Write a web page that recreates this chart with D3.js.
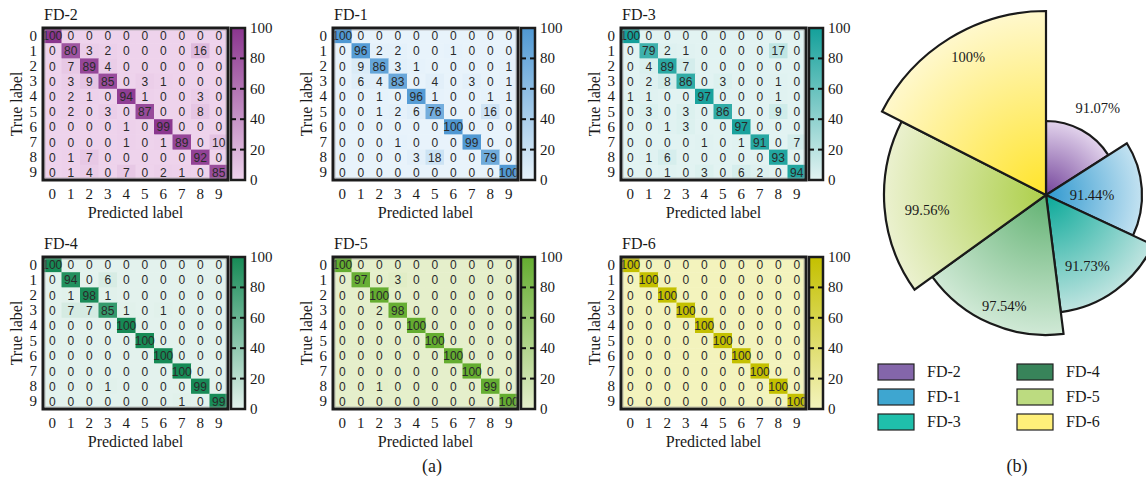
<!DOCTYPE html>
<html>
<head>
<meta charset="utf-8">
<script src="https://cdn.jsdelivr.net/npm/d3@7"></script>
<style>
  body { margin: 0; background: #fff; }
  svg text { fill: #1a1a1a; }
  .serif { font-family: "Liberation Serif", "DejaVu Serif", serif; }
  .cell { font-family: "Liberation Sans", Arial, sans-serif; font-size: 12px; }
</style>
</head>
<body>
<div id="chart"></div>
<script>
// class labels 0..9
var classes = d3.range(10)
var cbTicks = [0, 20, 40, 60, 80, 100]

// confusion matrices (%), rows = true label, cols = predicted label
var fd2 = [
  [100,0,0,0,0,0,0,0,0,0],
  [0,80,3,2,0,0,0,0,16,0],
  [0,7,89,4,0,0,0,0,0,0],
  [0,3,9,85,0,3,1,0,0,0],
  [0,2,1,0,94,1,0,0,3,0],
  [0,2,0,3,0,87,0,0,8,0],
  [0,0,0,0,1,0,99,0,0,0],
  [0,0,0,0,1,0,1,89,0,10],
  [0,1,7,0,0,0,0,0,92,0],
  [0,1,4,0,7,0,2,1,0,85]
]
var fd1 = [
  [100,0,0,0,0,0,0,0,0,0],
  [0,96,2,2,0,0,1,0,0,0],
  [0,9,86,3,1,0,0,0,0,1],
  [0,6,4,83,0,4,0,3,0,1],
  [0,0,1,0,96,1,0,0,1,1],
  [0,0,1,2,6,76,0,0,16,0],
  [0,0,0,0,0,0,100,0,0,0],
  [0,0,0,1,0,0,0,99,0,0],
  [0,0,0,0,3,18,0,0,79,0],
  [0,0,0,0,0,0,0,0,0,100]
]
var fd3 = [
  [100,0,0,0,0,0,0,0,0,0],
  [0,79,2,1,0,0,0,0,17,0],
  [0,4,89,7,0,0,0,0,0,0],
  [0,2,8,86,0,3,0,0,1,0],
  [1,1,0,0,97,0,0,0,1,0],
  [0,3,0,3,0,86,0,0,9,0],
  [0,0,1,3,0,0,97,0,0,0],
  [0,0,0,0,1,0,1,91,0,7],
  [0,1,6,0,0,0,0,0,93,0],
  [0,0,1,0,3,0,6,2,0,94]
]
var fd4 = [
  [100,0,0,0,0,0,0,0,0,0],
  [0,94,0,6,0,0,0,0,0,0],
  [0,1,98,1,0,0,0,0,0,0],
  [0,7,7,85,1,0,1,0,0,0],
  [0,0,0,0,100,0,0,0,0,0],
  [0,0,0,0,0,100,0,0,0,0],
  [0,0,0,0,0,0,100,0,0,0],
  [0,0,0,0,0,0,0,100,0,0],
  [0,0,0,1,0,0,0,0,99,0],
  [0,0,0,0,0,0,0,1,0,99]
]
var fd5 = [
  [100,0,0,0,0,0,0,0,0,0],
  [0,97,0,3,0,0,0,0,0,0],
  [0,0,100,0,0,0,0,0,0,0],
  [0,0,2,98,0,0,0,0,0,0],
  [0,0,0,0,100,0,0,0,0,0],
  [0,0,0,0,0,100,0,0,0,0],
  [0,0,0,0,0,0,100,0,0,0],
  [0,0,0,0,0,0,0,100,0,0],
  [0,0,1,0,0,0,0,0,99,0],
  [0,0,0,0,0,0,0,0,0,100]
]
var fd6 = [
  [100,0,0,0,0,0,0,0,0,0],
  [0,100,0,0,0,0,0,0,0,0],
  [0,0,100,0,0,0,0,0,0,0],
  [0,0,0,100,0,0,0,0,0,0],
  [0,0,0,0,100,0,0,0,0,0],
  [0,0,0,0,0,100,0,0,0,0],
  [0,0,0,0,0,0,100,0,0,0],
  [0,0,0,0,0,0,0,100,0,0],
  [0,0,0,0,0,0,0,0,100,0],
  [0,0,0,0,0,0,0,0,0,100]
]

// accuracy per dataset, order as in the rose chart
var roseNames = ["FD-2", "FD-1", "FD-3", "FD-4", "FD-5", "FD-6"]
var roseValues = [91.07, 91.44, 91.73, 97.54, 99.56, 100]

// ---- styles / layout ----
var panels = [
  {name: "FD-2", m: fd2, x: 43,  y: 28,  lo: "#eed3ec", hi: "#8a358e"},
  {name: "FD-1", m: fd1, x: 333, y: 28,  lo: "#e8f3fb", hi: "#4f98d3"},
  {name: "FD-3", m: fd3, x: 621, y: 28,  lo: "#e2f3f2", hi: "#14a09a"},
  {name: "FD-4", m: fd4, x: 43,  y: 257, lo: "#e3f2ed", hi: "#168a55"},
  {name: "FD-5", m: fd5, x: 333, y: 257, lo: "#e5efcb", hi: "#64ad30"},
  {name: "FD-6", m: fd6, x: 621, y: 257, lo: "#f3f3bd", hi: "#c4c000"}
]
var roseStyle = {
  "FD-2": {inner: "#73439a", outer: "#e2d3ec", key: "#8466aa"},
  "FD-1": {inner: "#2f98cf", outer: "#c3e2f1", key: "#3ea6d0"},
  "FD-3": {inner: "#08a898", outer: "#bfe4e0", key: "#1fbfab"},
  "FD-4": {inner: "#62b272", outer: "#d0e9d6", key: "#38845a"},
  "FD-5": {inner: "#adcf4a", outer: "#ebf1cf", key: "#bcdb80"},
  "FD-6": {inner: "#ffe42a", outer: "#fff8cc", key: "#fff07a"}
}
// label placement: fraction of slice radius, angle shift (deg)
var roseLabel = [[1.37, 2], [0.48, 4], [0.70, 6], [0.85, -3], [0.74, -3], [0.86, 2]]

var W = 1146, H = 486
var mw = 185, mh = 152

var svg = d3.select("#chart").append("svg")
  .attr("width", W).attr("height", H)
var defs = svg.append("defs")

panels.forEach(function(p, pi) {
  var g = svg.append("g").attr("transform", "translate(" + p.x + "," + p.y + ")")
  var x = d3.scaleBand().domain(classes).range([0, mw])
  var y = d3.scaleBand().domain(classes).range([0, mh])
  var color = d3.scaleLinear().domain([0, 100]).range([p.lo, p.hi]).interpolate(d3.interpolateRgb)

  var cells = []
  p.m.forEach(function(row, i) { row.forEach(function(v, j) { cells.push({r: i, c: j, v: v}) }) })

  g.selectAll("rect.c").data(cells).enter().append("rect")
    .attr("x", function(d) { return x(d.c) })
    .attr("y", function(d) { return y(d.r) })
    .attr("width", x.bandwidth() + 0.5)
    .attr("height", y.bandwidth() + 0.5)
    .attr("fill", function(d) { return color(d.v) })

  g.selectAll("text.c").data(cells).enter().append("text")
    .attr("class", "cell")
    .attr("x", function(d) { return x(d.c) + x.bandwidth() / 2 })
    .attr("y", function(d) { return y(d.r) + y.bandwidth() / 2 + 4.5 })
    .attr("text-anchor", "middle")
    .style("fill", "#2a2a2a")
    .text(function(d) { return d.v })

  // frame
  g.append("rect").attr("x", 0).attr("y", 0).attr("width", mw).attr("height", mh)
    .attr("fill", "none").attr("stroke", "#1c1c1c").attr("stroke-width", 3)
  g.append("rect").attr("x", 2).attr("y", 2).attr("width", mw - 4).attr("height", mh - 4)
    .attr("fill", "none").attr("stroke", "#9a9a9a").attr("stroke-width", 0.6)

  // title
  g.append("text").attr("class", "serif").attr("x", 1).attr("y", -8)
    .style("font-size", "16px").text(p.name)

  // y tick labels
  g.selectAll("text.yl").data(classes).enter().append("text")
    .attr("class", "serif").style("font-size", "15px")
    .attr("x", -6).attr("y", function(d) { return y(d) + y.bandwidth() / 2 + 5 })
    .attr("text-anchor", "end").text(function(d) { return d })
  // x tick labels
  g.selectAll("text.xl").data(classes).enter().append("text")
    .attr("class", "serif").style("font-size", "15px")
    .attr("x", function(d) { return x(d) + x.bandwidth() / 2 }).attr("y", mh + 19)
    .attr("text-anchor", "middle").text(function(d) { return d })

  g.append("text").attr("class", "serif").style("font-size", "16px")
    .attr("x", mw / 2).attr("y", mh + 38).attr("text-anchor", "middle").text("Predicted label")
  g.append("text").attr("class", "serif").style("font-size", "16px")
    .attr("transform", "translate(-21," + (mh / 2) + ") rotate(-90)")
    .attr("text-anchor", "middle").text("True label")

  // colorbar
  var gid = "cb" + pi
  var lg = defs.append("linearGradient").attr("id", gid)
    .attr("x1", 0).attr("y1", 1).attr("x2", 0).attr("y2", 0)
  lg.append("stop").attr("offset", 0).attr("stop-color", color(0))
  lg.append("stop").attr("offset", 1).attr("stop-color", color(100))
  var cb = g.append("g").attr("transform", "translate(" + (mw + 3) + ",0)")
  var cbw = 14
  var cy = d3.scaleLinear().domain([0, 100]).range([mh, 0])
  cb.append("rect").attr("width", cbw).attr("height", mh)
    .attr("fill", "url(#" + gid + ")").attr("stroke", "#1c1c1c").attr("stroke-width", 2.5)
  cb.selectAll("line.tl").data(cbTicks.slice(1, -1)).enter().append("line")
    .attr("x1", 0).attr("x2", 5).attr("y1", function(d) { return cy(d) }).attr("y2", function(d) { return cy(d) })
    .attr("stroke", "#111").attr("stroke-width", 2)
  cb.selectAll("line.tr").data(cbTicks.slice(1, -1)).enter().append("line")
    .attr("x1", cbw - 5).attr("x2", cbw).attr("y1", function(d) { return cy(d) }).attr("y2", function(d) { return cy(d) })
    .attr("stroke", "#111").attr("stroke-width", 2)
  cb.selectAll("text").data(cbTicks).enter().append("text")
    .attr("class", "serif").style("font-size", "15px")
    .attr("x", cbw + 5).attr("y", function(d) { return cy(d) + 5 }).text(function(d) { return d })
})

// ---- rose chart ----
var cx = 1046, cyy = 195
var rose = roseNames.map(function(n, i) { return {name: n, v: roseValues[i]} })
var pie = d3.pie().sort(null).value(function(d) { return d.v })
var rr = d3.scalePoint().domain(roseNames).range([74, 184])
var rg = svg.append("g").attr("transform", "translate(" + cx + "," + cyy + ")")

rose.forEach(function(d) {
  var st = roseStyle[d.name]
  var gr = defs.append("radialGradient").attr("id", "rg" + d.name)
    .attr("gradientUnits", "userSpaceOnUse").attr("cx", 0).attr("cy", 0).attr("r", rr(d.name))
  gr.append("stop").attr("offset", 0).attr("stop-color", st.inner)
  gr.append("stop").attr("offset", 1).attr("stop-color", st.outer)
})

var arcs = pie(rose)
rg.selectAll("path").data(arcs).enter().append("path")
  .attr("d", function(d) { return d3.arc().innerRadius(0).outerRadius(rr(d.data.name))(d) })
  .attr("fill", function(d) { return "url(#rg" + d.data.name + ")" })
  .attr("stroke", "#1a1a1a").attr("stroke-width", 2.2).attr("stroke-linejoin", "miter")

rg.selectAll("text").data(arcs).enter().append("text")
  .attr("class", "serif").style("font-size", "14.5px").attr("text-anchor", "middle")
  .attr("transform", function(d, i) {
    var a = (d.startAngle + d.endAngle) / 2 + roseLabel[i][1] * Math.PI / 180
    var r = rr(d.data.name) * roseLabel[i][0]
    return "translate(" + (r * Math.sin(a)) + "," + (-r * Math.cos(a) + 5) + ")"
  })
  .text(function(d) { return d.data.v + "%" })

// legend
var lgd = svg.append("g")
rose.forEach(function(d, i) {
  var col = Math.floor(i / 3), row = i % 3
  var lx = 878 + col * 139, ly = 364 + row * 25
  lgd.append("rect").attr("x", lx).attr("y", ly).attr("width", 36).attr("height", 16)
    .attr("fill", roseStyle[d.name].key).attr("stroke", "#222").attr("stroke-width", 1.2)
  lgd.append("text").attr("class", "serif").style("font-size", "16px")
    .attr("x", lx + 49).attr("y", ly + 13).text(d.name)
})

svg.append("text").attr("class", "serif").style("font-size", "18px")
  .attr("x", 432).attr("y", 472).attr("text-anchor", "middle").text("(a)")
svg.append("text").attr("class", "serif").style("font-size", "18px")
  .attr("x", 1017).attr("y", 472).attr("text-anchor", "middle").text("(b)")
</script>
</body>
</html>
